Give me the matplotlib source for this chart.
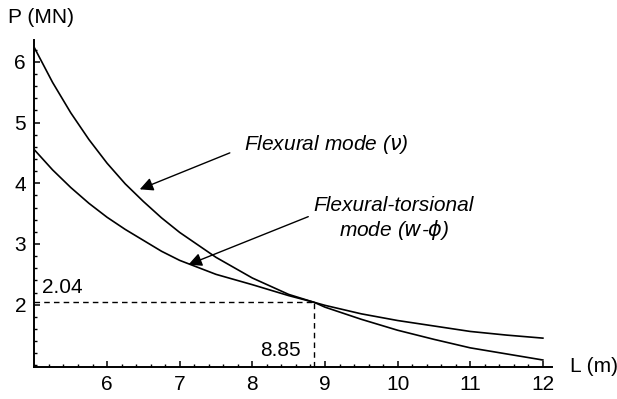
import matplotlib
matplotlib.use("Agg")
import matplotlib.pyplot as plt
from matplotlib.ticker import MultipleLocator

plt.rcParams['font.family'] = ['Liberation Sans', 'DejaVu Sans']

# buckling loads
L_flex = [5.0, 5.25, 5.5, 5.75, 6.0, 6.25, 6.5, 6.75, 7.0, 7.5, 8.0, 8.5, 8.85, 9.0, 9.5, 10.0, 10.5, 11.0, 11.5, 12.0]
P_flex = [6.23, 5.66, 5.16, 4.72, 4.33, 3.99, 3.70, 3.43, 3.19, 2.78, 2.44, 2.17, 2.04, 1.96, 1.76, 1.58, 1.43, 1.29, 1.19, 1.09]

L_ft = [5.0, 5.25, 5.5, 5.75, 6.0, 6.25, 6.5, 6.75, 7.0, 7.5, 8.0, 8.5, 8.85, 9.0, 9.5, 10.0, 10.5, 11.0, 11.5, 12.0]
P_ft = [4.55, 4.22, 3.93, 3.67, 3.44, 3.24, 3.06, 2.88, 2.73, 2.50, 2.33, 2.15, 2.04, 1.99, 1.85, 1.74, 1.65, 1.56, 1.50, 1.45]

L_cross = 8.85
P_cross = 2.04

xticks = [6, 7, 8, 9, 10, 11, 12]
yticks = [2, 3, 4, 5, 6]

fig = plt.figure(figsize=(6.17, 3.99), dpi=100)
ax = fig.add_axes([0.0558, 0.081, 0.8382, 0.819])

ax.plot(L_flex, P_flex, color='black', lw=1.2)
ax.plot(L_ft, P_ft, color='black', lw=1.2)

# dashed guides to the crossing point
ax.plot([5, L_cross], [P_cross, P_cross], color='black', lw=1.0, ls=(0, (4, 3)))
ax.plot([L_cross, L_cross], [0.98, P_cross], color='black', lw=1.0, ls=(0, (4, 3)))

ax.set_xlim(5, 12.12)
ax.set_ylim(0.98, 6.36)
ax.spines['top'].set_visible(False)
ax.spines['right'].set_visible(False)
ax.spines['left'].set_linewidth(1.4)
ax.spines['bottom'].set_linewidth(1.4)

ax.set_xticks(xticks)
ax.set_yticks(yticks)
ax.xaxis.set_minor_locator(MultipleLocator(0.2))
ax.yaxis.set_minor_locator(MultipleLocator(0.2))
ax.tick_params(which='major', direction='in', length=4, width=1.1, labelsize=15, pad=6)
ax.tick_params(which='minor', direction='in', length=2.5, width=1.0)

ax.text(-0.052, 1.04, 'P (MN)', transform=ax.transAxes, fontsize=15, ha='left', va='bottom')
ax.text(1.035, 0.0, 'L (m)', transform=ax.transAxes, fontsize=15, ha='left', va='center')

ax.text(5.1, P_cross + 0.09, '2.04', fontsize=15, ha='left', va='bottom')
ax.text(L_cross - 0.18, 1.25, '8.85', fontsize=15, ha='right', va='center')

arrow = dict(arrowstyle='-|>', color='black', lw=1.0, mutation_scale=20, shrinkA=0, shrinkB=0)
ax.annotate('', xy=(6.45, 3.9), xytext=(7.69, 4.5), arrowprops=arrow)
ax.annotate('', xy=(7.12, 2.66), xytext=(8.77, 3.45), arrowprops=arrow)

ax.text(7.88, 4.63, r'Flexural mode ($\nu$)', fontsize=15, style='italic', ha='left', va='center')
ax.text(9.95, 3.41, 'Flexural-torsional\nmode ($w$-$\\phi$)', fontsize=15, style='italic',
        ha='center', va='center', linespacing=1.15)

fig.savefig('out.png', dpi=100)
